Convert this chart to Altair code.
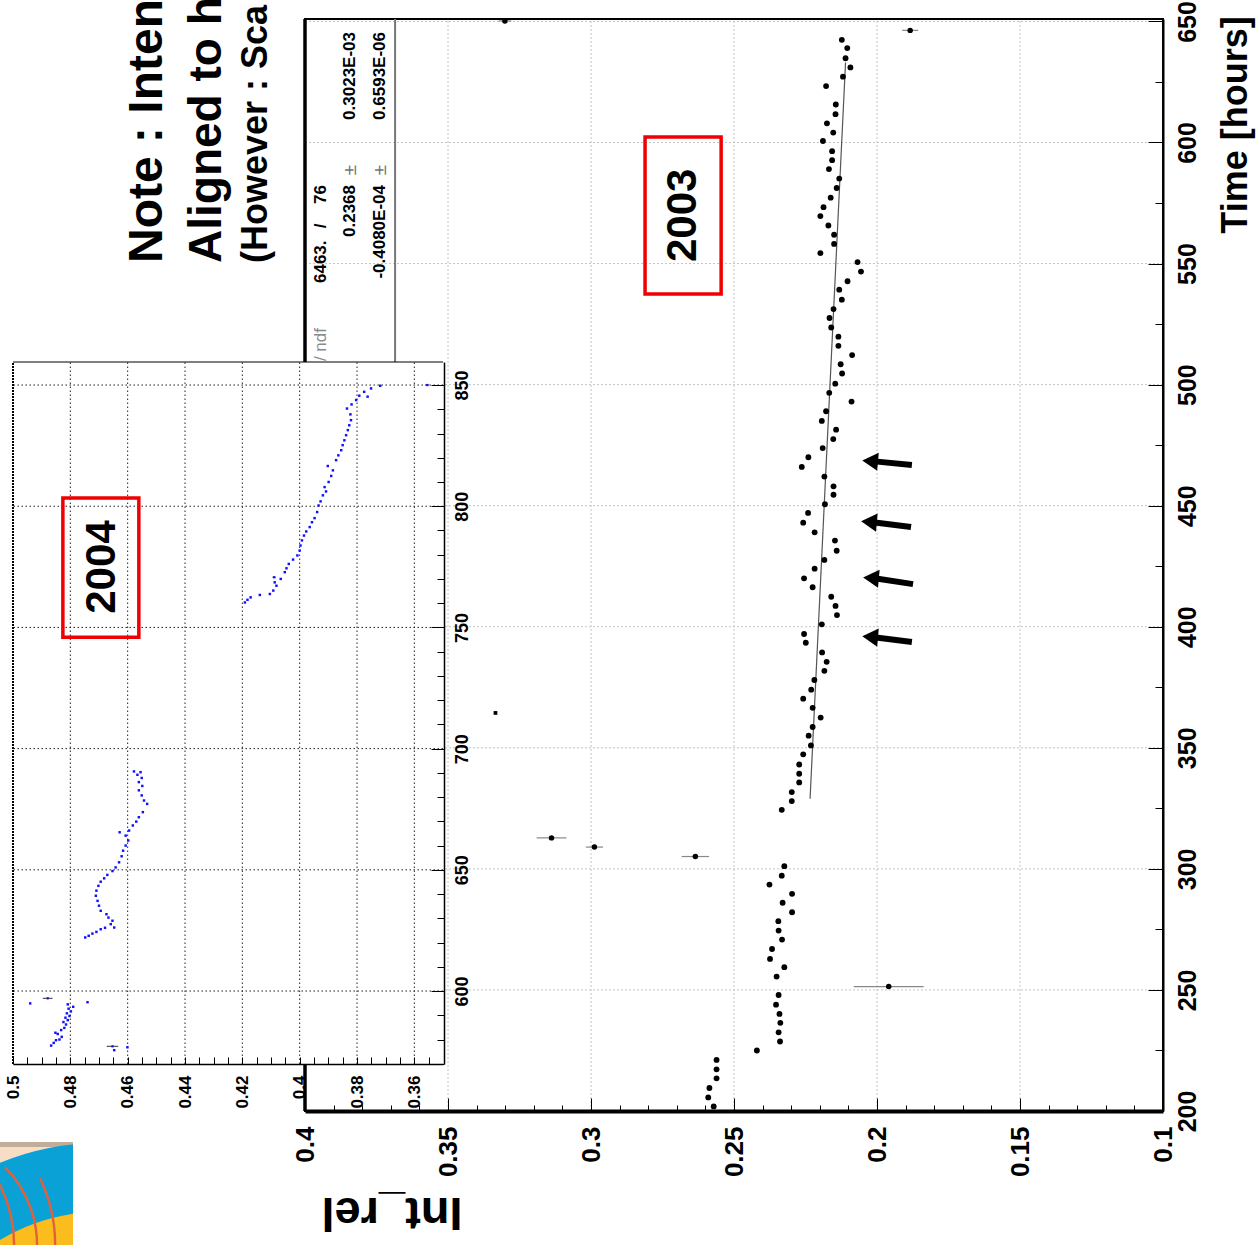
import altair as alt
import pandas as pd

W, H = 1257, 1245
FONT = "Liberation Sans, Arial, Helvetica, sans-serif"
NARROW = "Liberation Sans Narrow, Arial Narrow, Liberation Sans, sans-serif"

# ---------------- 2003 data (main chart) ----------------
t_2003 = [201.9, 205.6, 209.5, 213.5, 217.2, 221.1, 225.0, 228.7, 232.5, 236.4,
          240.1, 243.9, 247.9, 255.5, 259.4, 262.8, 266.9, 270.8, 274.5, 278.4,
          282.1, 286.0, 289.7, 293.5, 297.2, 301.1,
          324.4, 328.0, 331.7, 335.7, 339.3, 343.1,
          347.3, 351.0, 355.0, 358.6, 362.5, 366.5, 370.3, 374.0, 378.0, 381.8,
          385.5, 389.4, 393.4, 397.0, 401.0, 404.8, 408.6, 412.4, 416.3, 420.0,
          424.0, 427.6, 431.4, 435.6, 439.0, 443.0, 447.0, 450.6, 454.5, 458.0,
          462.0, 466.0, 470.0, 473.8, 477.5, 481.4, 485.0, 489.0, 493.0, 496.6,
          500.4,
          504.6, 508.4, 512.2, 516.0, 519.8, 523.6, 527.5, 531.2, 535.1, 539.2,
          542.7, 546.7, 550.6, 554.3, 558.1, 561.9, 565.7, 569.6, 573.3, 577.2,
          581.2, 585.1, 589.0, 592.7, 596.4, 600.6, 604.1, 607.9, 611.7, 615.7,
          623.3, 627.2, 631.0, 634.8, 639.0, 642.4]
v_2003 = [0.2571, 0.2590, 0.2586, 0.2561, 0.2561, 0.2561, 0.2420, 0.2339, 0.2344, 0.2338,
          0.2341, 0.2353, 0.2344, 0.2351, 0.2324, 0.2374, 0.2367, 0.2332, 0.2344, 0.2345,
          0.2297, 0.2330, 0.2297, 0.2376, 0.2333, 0.2324,
          0.2333, 0.2298, 0.2298, 0.2272, 0.2272, 0.2272,
          0.2258, 0.2231, 0.2239, 0.2225, 0.2197, 0.2225, 0.2258, 0.2230, 0.2219, 0.2184,
          0.2176, 0.2192, 0.2249, 0.2255, 0.2193, 0.2140, 0.2145, 0.2160, 0.2225, 0.2255,
          0.2218, 0.2184, 0.2141, 0.2147, 0.2218, 0.2258, 0.2241, 0.2182, 0.2152, 0.2152,
          0.2184, 0.2263, 0.2240, 0.2190, 0.2153, 0.2143, 0.2193, 0.2178, 0.2089, 0.2167,
          0.2146,
          0.2122, 0.2127, 0.2087, 0.2135, 0.2135, 0.2160, 0.2166, 0.2152, 0.2123, 0.2132,
          0.2103, 0.2056, 0.2068, 0.2198, 0.2150, 0.2150, 0.2170, 0.2198, 0.2187, 0.2162,
          0.2141, 0.2132, 0.2168, 0.2157, 0.2157, 0.2189, 0.2153, 0.2175, 0.2145, 0.2144,
          0.2178, 0.2119, 0.2093, 0.2110, 0.2104, 0.2123]

# points drawn with horizontal error bars
t_2003_err = [251.4, 305.1, 309.0, 312.8, 646.3, 650.2]
v_2003_err = [0.1959, 0.2635, 0.2988, 0.3138, 0.1884, 0.3301]
e_2003_err = [0.0122, 0.0048, 0.0030, 0.0052, 0.0028, 0.0022]

# isolated small square marker
t_2003_sq = [364.4]
v_2003_sq = [0.3334]

# fit line (end points)
t_fit = [329.0, 633.0]
v_fit = [0.2234, 0.2110]

# ---------------- 2004 data (inset) ----------------
t_2004 = [577.5, 578.6, 579.7, 580.0, 581.1, 582.3, 582.8, 583.9, 584.8, 586.2,
          587.2, 588.0, 589.0, 589.7, 590.8, 591.6, 592.7, 593.5, 594.5,
          594.9, 595.4, 575.6, 576.8,
          622.1, 622.8, 623.7, 624.4, 625.5, 626.1, 626.2, 627.6, 629.0, 630.3,
          631.7, 633.1, 635.2, 637.2, 639.3, 641.4, 643.4, 645.1, 646.5, 647.9,
          649.5, 651.0, 653.1, 655.6, 657.9, 660.0, 662.1, 664.1, 665.5, 666.2,
          668.3, 669.9, 671.7, 673.8, 677.2, 678.6, 680.7, 682.8, 684.6, 686.2,
          687.9, 689.2, 690.3, 690.6,
          760.3, 761.4, 762.4, 763.4, 763.8, 765.2, 767.2, 768.6, 770.0, 772.8,
          774.4, 776.2, 778.0, 779.7, 781.7, 783.8, 785.9, 787.9, 789.6, 791.4,
          793.4, 795.1, 797.6, 800.3, 802.0, 804.5, 806.1, 807.9, 810.0, 812.5,
          814.8, 816.6, 819.0, 821.0, 823.1, 825.2, 827.2, 829.3, 831.4, 833.4,
          835.5, 837.9, 840.3, 842.0, 843.8, 845.6, 847.2, 845.2, 848.6, 849.7]
v_2004 = [0.4867, 0.4858, 0.4850, 0.4838, 0.4830, 0.4844, 0.4852, 0.4832, 0.4821, 0.4815,
          0.4824, 0.4809, 0.4817, 0.4803, 0.4812, 0.4798, 0.4806, 0.4790, 0.4809,
          0.4940, 0.4740, 0.4647, 0.4601,
          0.4748, 0.4736, 0.4723, 0.4709, 0.4694, 0.4679, 0.4647, 0.4659, 0.4653, 0.4667,
          0.4674, 0.4694, 0.4700, 0.4705, 0.4711, 0.4709, 0.4702, 0.4694, 0.4682, 0.4671,
          0.4653, 0.4642, 0.4630, 0.4621, 0.4616, 0.4607, 0.4598, 0.4607, 0.4628, 0.4595,
          0.4582, 0.4570, 0.4561, 0.4547, 0.4532, 0.4543, 0.4551, 0.4561, 0.4549, 0.4561,
          0.4551, 0.4566, 0.4555, 0.4578,
          0.4191, 0.4182, 0.4171, 0.4139, 0.4104, 0.4092, 0.4081, 0.4087, 0.4066, 0.4052,
          0.4046, 0.4038, 0.4023, 0.4008, 0.4000, 0.3997, 0.3992, 0.3985, 0.3977, 0.3965,
          0.3957, 0.3948, 0.3939, 0.3934, 0.3927, 0.3919, 0.3908, 0.3913, 0.3899, 0.3890,
          0.3884, 0.3902, 0.3873, 0.3865, 0.3855, 0.3850, 0.3844, 0.3838, 0.3832, 0.3827,
          0.3821, 0.3823, 0.3835, 0.3819, 0.3803, 0.3792, 0.3775, 0.3763, 0.3751, 0.3719]
t_2004_err = [597.0, 577.2, 770.7, 850.0]
v_2004_err = [0.4879, 0.4653, 0.4089, 0.3555]
e_2004_err = [0.0017, 0.0020, 0.0006, 0.0007]

# ---------------- axis values ----------------
main_int_ticks = [0.1, 0.15, 0.2, 0.25, 0.3, 0.35, 0.4]
main_int_minor = [0.11, 0.12, 0.13, 0.14, 0.16, 0.17, 0.18, 0.19, 0.21, 0.22, 0.23, 0.24,
                  0.26, 0.27, 0.28, 0.29, 0.31, 0.32, 0.33, 0.34, 0.36, 0.37, 0.38, 0.39]
main_time_ticks = [200, 250, 300, 350, 400, 450, 500, 550, 600, 650]
main_time_minor = [225, 275, 325, 375, 425, 475, 525, 575, 625]
inset_int_ticks = [0.36, 0.38, 0.4, 0.42, 0.44, 0.46, 0.48, 0.5]
inset_int_minor = [0.355, 0.365, 0.37, 0.375, 0.385, 0.39, 0.395, 0.405, 0.41, 0.415,
                   0.425, 0.43, 0.435, 0.445, 0.45, 0.455, 0.465, 0.47, 0.475, 0.485,
                   0.49, 0.495]
inset_time_ticks = [600, 650, 700, 750, 800, 850]
inset_time_minor = [570, 580, 590, 610, 620, 630, 640, 660, 670, 680, 690, 710, 720, 730,
                    740, 760, 770, 780, 790, 810, 820, 830, 840]

# ---------------- scales ----------------
MX = alt.Scale(domain=[0.1, 0.4], range=[1163, 305], nice=False, zero=False)
MY = alt.Scale(domain=[200, 651], range=[1111, 19], nice=False, zero=False)
IX = alt.Scale(domain=[0.35, 0.5], range=[443, 13], nice=False, zero=False)
IY = alt.Scale(domain=[569.9, 859.5], range=[1064, 362], nice=False, zero=False)

one = pd.DataFrame({"k": [0]})


def label_axis(orient, offset, values, size, pad, fmt, align, baseline, dwidth, font=FONT):
    return alt.Axis(orient=orient, offset=offset, values=values, format=fmt,
                    labelAngle=270, labelAlign=align, labelBaseline=baseline,
                    labelFont=font, labelFontSize=size, labelFontWeight="bold",
                    labelColor="black", labelPadding=pad, labelFlush=False,
                    labelOverlap=False, ticks=False, domain=True, domainColor="black",
                    domainWidth=dwidth, grid=False, title=None, zindex=2)


def tick_axis(orient, offset, values, size):
    return alt.Axis(orient=orient, offset=offset, values=values, labels=False, ticks=True,
                    tickSize=size, tickColor="black", tickWidth=1, domain=False,
                    grid=False, title=None, zindex=2)


def txt(s, x, y, size, angle=270, align="left", baseline="alphabetic",
        weight="bold", color="black", font=FONT):
    return alt.Chart(one).mark_text(
        text=s, angle=angle, align=align, baseline=baseline, fontSize=size,
        fontWeight=weight, color=color, font=font
    ).encode(x=alt.value(x), y=alt.value(y))


layers = []

# ---- main gridlines + main labelled axes ----
d_gv = pd.DataFrame({"v": [0.15, 0.2, 0.25, 0.3, 0.35], "t0": 200.0, "t1": 651.0})
layers.append(alt.Chart(d_gv).mark_rule(color="#c4c4c4", strokeDash=[2, 2], strokeWidth=1).encode(
    x=alt.X("v:Q", scale=MX, axis=label_axis("bottom", 1111 - H, main_int_ticks, 26, 15,
                                             ".2~f", "right", "middle", 4)),
    y=alt.Y("t0:Q", scale=MY, axis=label_axis("right", 1163 - W, main_time_ticks, 25, 12,
                                              "d", "center", "top", 2, NARROW)),
    y2="t1:Q"))
d_gh = pd.DataFrame({"t": [250, 300, 350, 400, 450, 500, 550, 600, 650], "v0": 0.1, "v1": 0.4})
layers.append(alt.Chart(d_gh).mark_rule(color="#c4c4c4", strokeDash=[2, 2], strokeWidth=1).encode(
    y=alt.Y("t:Q", scale=MY, axis=None),
    x=alt.X("v0:Q", scale=MX, axis=None), x2="v1:Q"))

# ---- main inside ticks (major / minor) ----
layers.append(alt.Chart(d_gv).mark_rule(strokeOpacity=0).encode(
    x=alt.X("v:Q", scale=MX, axis=tick_axis("top", -1111, main_int_ticks, 13)),
    y=alt.Y("t0:Q", scale=MY, axis=tick_axis("left", -1163, main_time_ticks, 15)),
    y2="t1:Q"))
layers.append(alt.Chart(d_gv).mark_rule(strokeOpacity=0).encode(
    x=alt.X("v:Q", scale=MX, axis=tick_axis("top", -1111, main_int_minor, 6)),
    y=alt.Y("t0:Q", scale=MY, axis=tick_axis("left", -1163, main_time_minor, 8)),
    y2="t1:Q"))

# ---- main frame ----
d_frame = pd.DataFrame({"v0": [0.1], "v1": [0.4], "t0": [200.0], "t1": [651.0]})
layers.append(alt.Chart(d_frame).mark_rect(fillOpacity=0, stroke="black", strokeWidth=2).encode(
    x=alt.X("v0:Q", scale=MX, axis=None), x2="v1:Q",
    y=alt.Y("t0:Q", scale=MY, axis=None), y2="t1:Q"))
layers.append(alt.Chart(d_frame).mark_rule(color="black", strokeWidth=3.5).encode(
    x=alt.X("v1:Q", scale=MX, axis=None),
    y=alt.Y("t0:Q", scale=MY, axis=None), y2="t1:Q"))

# ---- fit statistics box ----
d_box = pd.DataFrame({"v": [0.3685], "t0": [470.0], "t1": [651.0]})
layers.append(alt.Chart(d_box).mark_rule(color="#777777", strokeWidth=2).encode(
    x=alt.X("v:Q", scale=MX, axis=None),
    y=alt.Y("t0:Q", scale=MY, axis=None), y2="t1:Q"))
SF = 17
layers.append(txt("\u03c7\u00b2 / ndf", 321, 328, SF, align="right", baseline="middle",
                  weight="normal", color="#8a8a8a", font=NARROW))
layers.append(txt("6463.", 321, 283, SF, align="left", baseline="middle", font=NARROW))
layers.append(txt("/", 321, 226, SF, align="center", baseline="middle", font=NARROW))
layers.append(txt("76", 321, 185, SF, align="right", baseline="middle", font=NARROW))
layers.append(txt("0.2368", 350, 185, SF, align="right", baseline="middle", font=NARROW))
layers.append(txt("\u00b1", 350, 170, 19, align="center", baseline="middle",
                  weight="normal", color="#777777", font=NARROW))
layers.append(txt("0.3023E-03", 350, 32, SF, align="right", baseline="middle", font=NARROW))
layers.append(txt("-0.4080E-04", 380, 185, SF, align="right", baseline="middle", font=NARROW))
layers.append(txt("\u00b1", 380, 170, 19, align="center", baseline="middle",
                  weight="normal", color="#777777", font=NARROW))
layers.append(txt("0.6593E-06", 380, 32, SF, align="right", baseline="middle", font=NARROW))

# ---- 2003 data ----
d_fit = pd.DataFrame({"t": t_fit, "v": v_fit})
layers.append(alt.Chart(d_fit).mark_line(color="#555555", strokeWidth=1.2).encode(
    x=alt.X("v:Q", scale=MX, axis=None), y=alt.Y("t:Q", scale=MY, axis=None)))

d_err = pd.DataFrame({"t": t_2003_err, "v": v_2003_err, "e": e_2003_err})
d_err["lo"] = d_err["v"] - d_err["e"]
d_err["hi"] = d_err["v"] + d_err["e"]
layers.append(alt.Chart(d_err).mark_rule(color="#888888", strokeWidth=1.2).encode(
    x=alt.X("lo:Q", scale=MX, axis=None), x2="hi:Q",
    y=alt.Y("t:Q", scale=MY, axis=None)))
layers.append(alt.Chart(d_err).mark_circle(size=30, color="black", opacity=1).encode(
    x=alt.X("v:Q", scale=MX, axis=None), y=alt.Y("t:Q", scale=MY, axis=None)))

d_2003 = pd.DataFrame({"t": t_2003, "v": v_2003})
layers.append(alt.Chart(d_2003).mark_circle(size=34, color="black", opacity=1).encode(
    x=alt.X("v:Q", scale=MX, axis=None), y=alt.Y("t:Q", scale=MY, axis=None)))

d_sq = pd.DataFrame({"t": t_2003_sq, "v": v_2003_sq})
layers.append(alt.Chart(d_sq).mark_square(size=14, color="black", opacity=1).encode(
    x=alt.X("v:Q", scale=MX, axis=None), y=alt.Y("t:Q", scale=MY, axis=None)))

# ---- "2003" label box ----
d_b03 = pd.DataFrame({"v0": [0.2545], "v1": [0.2811], "t0": [537.4], "t1": [602.3],
                      "vc": [0.2678], "tc": [569.9], "s": ["2003"]})
layers.append(alt.Chart(d_b03).mark_rect(fillOpacity=0, stroke="#f00000", strokeWidth=3.5).encode(
    x=alt.X("v0:Q", scale=MX, axis=None), x2="v1:Q",
    y=alt.Y("t0:Q", scale=MY, axis=None), y2="t1:Q"))
layers.append(alt.Chart(d_b03).mark_text(angle=270, align="center", baseline="middle",
                                         fontSize=42, fontWeight="bold", font=FONT,
                                         color="black").encode(
    x=alt.X("vc:Q", scale=MX, axis=None), y=alt.Y("tc:Q", scale=MY, axis=None), text="s:N"))

# ---- arrows ----
d_arr = pd.DataFrame({"tip_v": [0.2052, 0.2056, 0.2049, 0.2052],
                      "tip_t": [468.4, 443.3, 420.1, 395.8],
                      "tail_v": [0.1878, 0.1881, 0.1874, 0.1878],
                      "tail_t": [466.8, 441.2, 417.6, 393.7]})
layers.append(alt.Chart(d_arr).mark_rule(color="black", strokeWidth=6, x2Offset=10).encode(
    x=alt.X("tail_v:Q", scale=MX, axis=None), x2="tip_v:Q",
    y=alt.Y("tail_t:Q", scale=MY, axis=None), y2="tip_t:Q"))
layers.append(alt.Chart(d_arr).mark_point(shape="triangle-left", filled=True, size=330,
                                          angle=5, xOffset=8, color="black", opacity=1).encode(
    x=alt.X("tip_v:Q", scale=MX, axis=None), y=alt.Y("tip_t:Q", scale=MY, axis=None)))

# ---------------- inset (2004) ----------------
d_ibg = pd.DataFrame({"v0": [0.35], "v1": [0.5], "t0": [569.9], "t1": [859.5]})
layers.append(alt.Chart(d_ibg).mark_rect(color="white", opacity=1).encode(
    x=alt.X("v0:Q", scale=IX, axis=label_axis("bottom", 1064 - H, inset_int_ticks, 17, 11,
                                              ".2~f", "right", "middle", 1.5)),
    x2="v1:Q",
    y=alt.Y("t0:Q", scale=IY, axis=label_axis("right", 444 - W, inset_time_ticks, 18, 9,
                                              "d", "center", "top", 1.5)),
    y2="t1:Q"))

d_igv = pd.DataFrame({"v": [0.36, 0.38, 0.4, 0.42, 0.44, 0.46, 0.48], "t0": 569.9, "t1": 859.5})
layers.append(alt.Chart(d_igv).mark_rule(color="#222222", strokeDash=[1.5, 2.5], strokeWidth=1).encode(
    x=alt.X("v:Q", scale=IX, axis=None),
    y=alt.Y("t0:Q", scale=IY, axis=None), y2="t1:Q"))
d_igh = pd.DataFrame({"t": inset_time_ticks, "v0": 0.35, "v1": 0.5})
layers.append(alt.Chart(d_igh).mark_rule(color="#222222", strokeDash=[1.5, 2.5], strokeWidth=1).encode(
    y=alt.Y("t:Q", scale=IY, axis=None),
    x=alt.X("v0:Q", scale=IX, axis=None), x2="v1:Q"))

layers.append(alt.Chart(d_igv).mark_rule(strokeOpacity=0).encode(
    x=alt.X("v:Q", scale=IX, axis=tick_axis("top", -1064, inset_int_ticks + inset_int_minor, 7)),
    y=alt.Y("t0:Q", scale=IY, axis=tick_axis("left", -444, inset_time_ticks, 13)),
    y2="t1:Q"))
layers.append(alt.Chart(d_igv).mark_rule(strokeOpacity=0).encode(
    x=alt.X("v:Q", scale=IX, axis=None),
    y=alt.Y("t0:Q", scale=IY, axis=tick_axis("left", -444, inset_time_minor, 7)),
    y2="t1:Q"))

layers.append(alt.Chart(d_ibg).mark_rule(color="black", strokeWidth=1.2).encode(
    y=alt.Y("t1:Q", scale=IY, axis=None),
    x=alt.X("v0:Q", scale=IX, axis=None), x2="v1:Q"))
layers.append(alt.Chart(d_ibg).mark_rule(color="black", strokeWidth=2, strokeDash=[2, 1]).encode(
    x=alt.X("v1:Q", scale=IX, axis=None),
    y=alt.Y("t0:Q", scale=IY, axis=None), y2="t1:Q"))

d_ierr = pd.DataFrame({"t": t_2004_err, "v": v_2004_err, "e": e_2004_err})
d_ierr["lo"] = d_ierr["v"] - d_ierr["e"]
d_ierr["hi"] = d_ierr["v"] + d_ierr["e"]
layers.append(alt.Chart(d_ierr).mark_rule(color="#333333", strokeWidth=1).encode(
    x=alt.X("lo:Q", scale=IX, axis=None), x2="hi:Q",
    y=alt.Y("t:Q", scale=IY, axis=None)))
layers.append(alt.Chart(d_ierr).mark_square(size=5, color="#1010ff", opacity=1).encode(
    x=alt.X("v:Q", scale=IX, axis=None), y=alt.Y("t:Q", scale=IY, axis=None)))

d_2004 = pd.DataFrame({"t": t_2004, "v": v_2004})
layers.append(alt.Chart(d_2004).mark_square(size=6, color="#1010ff", opacity=1).encode(
    x=alt.X("v:Q", scale=IX, axis=None), y=alt.Y("t:Q", scale=IY, axis=None)))

d_b04 = pd.DataFrame({"v0": [0.4561], "v1": [0.4826], "t0": [746.0], "t1": [803.4],
                      "vc": [0.4690], "tc": [774.9], "s": ["2004"]})
layers.append(alt.Chart(d_b04).mark_rect(fillOpacity=0, stroke="#f00000", strokeWidth=3.5).encode(
    x=alt.X("v0:Q", scale=IX, axis=None), x2="v1:Q",
    y=alt.Y("t0:Q", scale=IY, axis=None), y2="t1:Q"))
layers.append(alt.Chart(d_b04).mark_text(angle=270, align="center", baseline="middle",
                                         fontSize=42, fontWeight="bold", font=FONT,
                                         color="black").encode(
    x=alt.X("vc:Q", scale=IX, axis=None), y=alt.Y("tc:Q", scale=IY, axis=None), text="s:N"))

# ---------------- logo (bottom left) ----------------
layers.append(alt.Chart(one).mark_rect(color="#f7dcc6").encode(
    x=alt.value(0), x2=alt.value(73), y=alt.value(1142), y2=alt.value(1245)))
layers.append(alt.Chart(one).mark_rect(color="#c2ad98").encode(
    x=alt.value(0), x2=alt.value(73), y=alt.value(1142), y2=alt.value(1147)))
layers.append(alt.Chart(one).mark_circle(size=274576, color="#0aa2d6", opacity=1).encode(
    x=alt.value(100), y=alt.value(1405)))
layers.append(alt.Chart(one).mark_circle(size=148996, color="#fbbd1e", opacity=1).encode(
    x=alt.value(100), y=alt.value(1405)))
for cx, cy, r, th in [(-74, 1245, 111, 0.79), (-102, 1245, 157, 1.13), (-122, 1245, 136, 1.11)]:
    layers.append(alt.Chart(one).mark_arc(radius=r + 1.2, radius2=r - 1.2, theta=th, theta2=1.75,
                                          color="#e2603a").encode(
        x=alt.value(cx), y=alt.value(cy)))
layers.append(alt.Chart(one).mark_rect(color="white").encode(
    x=alt.value(73), x2=alt.value(320), y=alt.value(1120), y2=alt.value(1245)))

# ---------------- titles / annotations ----------------
layers.append(txt("Note : Inten", 162, 263, 48))
layers.append(txt("Aligned to h", 221, 263, 46))
layers.append(txt("(However : Sca", 267, 263, 36))
layers.append(txt("Time [hours]", 1236, 125, 36, align="center", baseline="middle"))
layers.append(txt("Int_rel", 392, 1198, 47, angle=180, align="center", baseline="alphabetic"))

chart = alt.layer(*layers).resolve_scale(
    x="independent", y="independent"
).properties(
    width=W, height=H, padding=0, background="white",
    autosize=alt.AutoSizeParams(type="none")
).configure_view(strokeWidth=0)

chart.save("out.html", embed_options={"renderer": "svg", "actions": False})
